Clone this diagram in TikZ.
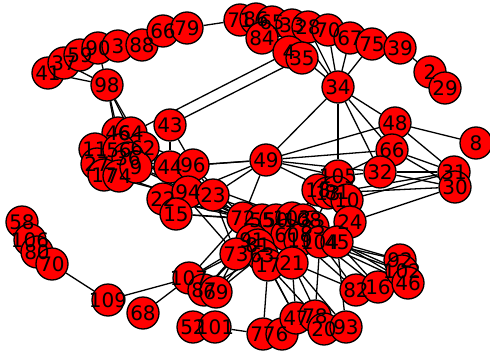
\documentclass[tikz,border=0pt]{standalone}
\usepackage{fontspec}
\setmainfont{DejaVu Sans}
\usetikzlibrary{backgrounds}
\tikzset{vtx/.style={circle,draw,fill=red,line width=1.3pt,minimum size=32pt,inner sep=0pt},
  vlab/.style={inner sep=0pt,font=\fontsize{20}{20}\selectfont},
  lnk/.style={line width=1.3pt}}
% vertices: name/x/y/label
\def\vlist{
  41/48/73/41, 37/64/63/37, 59/80/55/59, 90/98/48/90, 3/118/46/3, 88/142/45/88, 98/107/85/98,
  66t/163/31/66, 79/187/28/79, 71/240/20/71, 86/256/19/86, 65/272/22/65, 84/262/38/84,
  33/292/25/33, 28/308/27/28, 70t/328/30/70, 67/350/38/67, 75/372/44/75, 39/400/48/39,
  4/289/52/4, 35/302/58/35, 34/338/87/34, 2/430/72/2, 29/445/88/29,
  48/395/123/48, 8/476/143/8, 66/392/150/66, 32/380/172/32, 31/454/172/31, 30/455/187/30,
  49/266/160/49, 105/338/176/105, 18/318/190/18, 13/328/193/13, 81r/337/192/81, 10/347/200/10, 24/350/222/24,
  46/118/133/46, 64/131/133/64, 62/143/148/62, 11/95/149/11, 27/97/164/27, 56/119/150/56, 36/128/158/36,
  17l/104/175/17, 74/119/176/74, 9/136/167/9,
  43/170/125/43, 44/170/167/44, 96/193/165/96, 22/163/199/22, 94/188/192/94, 15/176/214/15, 23/213/195/23,
  72/243/218/72, 55/262/220/55, 50/276/220/50, 103/292/218/103, 108/303/220/108, 83/313/227/83,
  60/287/235/60, 19/300/240/19, 91/252/240/91, 81/258/245/81, 63/262/255/63, 73/236/254/73,
  17/268/265/17, 21/292/263/21, 104/320/242/104, 45/337/242/45,
  58/22/222/58, 106/30/240/106, 80/37/252/80, 70/52/264/70, 109/108/300/109, 68/143/313/68,
  107/189/278/107, 87/204/290/87, 69/216/292/69,
  52/193/327/52, 101/215/327/101, 77/263/334/77, 6/282/334/6, 47/296/318/47, 78/315/316/78,
  20b/324/329/20, 93/346/327/93,
  82/356/290/82, 16/378/287/16, 92/400/260/92, 102/402/271/102, 46b/408/283/46}
\begin{document}
\begin{tikzpicture}[x=1pt,y=-1pt]
\useasboundingbox (0,0) rectangle (490,356);
\foreach \n/\x/\y/\lab in \vlist
  \node[vtx] (v\n) at (\x,\y) {};
\foreach \n/\x/\y/\lab in \vlist
  \node[vlab] at (v\n) {\lab};
\begin{scope}[on background layer]
\foreach \a/\b in {
  41/37, 37/59, 59/90, 90/3, 3/88, 41/98, 37/98, 90/98, 88/66t, 88/79, 3/79, 66t/79, 79/71, 71/86, 86/65,
  65/84, 71/84, 84/33, 65/33, 33/28, 28/70t, 70t/67, 67/75, 75/39, 39/2, 2/29, 84/4, 4/35, 35/34,
  34/70t, 34/67, 34/75, 34/28, 34/33, 43/35, 64/4, 98/46, 98/64, 98/62, 98/56,
  34/49, 34/105, 34/32, 34/48, 34/66, 49/96, 49/44, 49/23, 49/94, 49/66, 49/48, 49/32, 49/72, 49/105, 49/10,
  43/96, 43/44, 48/8, 48/31, 48/66, 66/31, 66/30, 66/32, 32/31, 32/30, 32/105, 105/18, 31/10, 30/24,
  31/81r, 30/13, 66/105,
  62/44, 9/44, 36/44, 62/23, 9/72, 56/72, 36/103, 62/73, 74/72, 17l/50, 9/50, 46/96, 64/44,
  44/94, 96/23, 96/94, 22/94, 15/94, 22/72, 15/72, 15/55, 22/55, 23/72, 23/73, 94/23, 96/72,
  72/55, 55/50, 50/103, 103/108, 108/83, 60/19, 91/81, 81/63, 73/91, 63/17, 17/21, 21/104, 104/45,
  18/13, 13/81r, 81r/10, 10/24, 24/45, 105/83, 105/103, 18/108,
  73/107, 73/87, 73/69, 91/87, 81/69, 63/69, 91/107, 72/107, 63/87,
  107/109, 109/70, 107/68, 70/80, 80/106, 106/58,
  17/47, 17/78, 21/47, 21/20b, 21/93, 17/77, 63/47, 104/78, 45/93, 21/82,
  104/82, 104/16, 104/46b, 104/102, 104/92, 45/92, 45/102, 45/16, 19/82, 83/46b,
  52/101, 101/77, 77/6, 6/47, 47/78, 78/20b, 20b/93, 92/102, 102/46b, 46b/16, 16/82}
  \draw[lnk] (v\a) -- (v\b);
\end{scope}
\end{tikzpicture}
\end{document}
